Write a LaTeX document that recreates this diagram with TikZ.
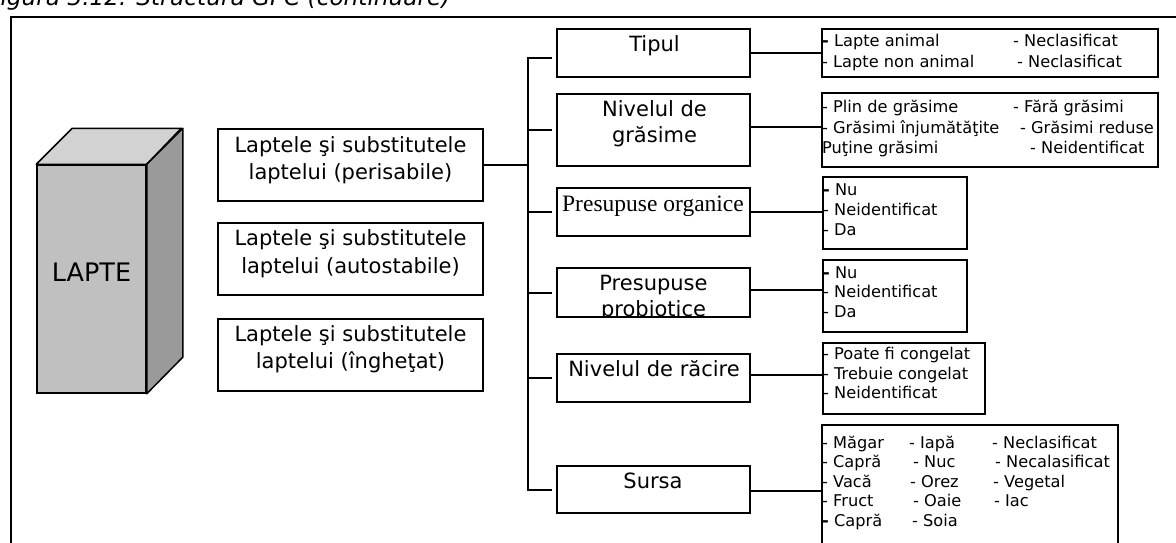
\documentclass[tikz,border=0pt]{standalone}
\usepackage{fontspec}
\setmainfont{DejaVu Sans}
\newfontfamily\timesfont{Liberation Serif}
\usetikzlibrary{calc}

\definecolor{frontgray}{HTML}{C0C0C0}
\definecolor{topgray}{HTML}{D2D2D2}
\definecolor{sidegray}{HTML}{9A9A9A}

\tikzset{
  frame/.style={line width=2pt},
  box/.style={draw, line width=2pt, inner sep=0pt, fill=white},
  conn/.style={line width=2pt},
  bigtext/.style={font=\fontsize{21}{27}\selectfont, inner sep=0pt, anchor=base},
  opttext/.style={font=\fontsize{16.2}{20}\selectfont, inner sep=0pt, anchor=base west},
}

\begin{document}
\begin{tikzpicture}[x=1pt, y=-1pt]
\useasboundingbox (0,0) rectangle (1176,543);
\clip (0,0) rectangle (1176,543);

% caption and page frame
\node[font=\fontsize{23.2}{28}\selectfont\itshape, inner sep=0pt, anchor=base west] (caption) at (-13,6) {Figura 3.12. Structura GPC (continuare)};
\draw[frame] (10.5,600) -- (10.5,17.5) -- (1200,17.5);

% milk carton
\node[draw, line width=1.5pt, fill=frontgray, minimum width=109pt, minimum height=228pt, inner sep=0pt] (milk) at (91.5,279) {};
\filldraw[line width=1.5pt, line join=round, fill=topgray] (milk.north west) -- ++(36,-36) -- ++(109,0) -- (milk.north east) -- cycle;
\filldraw[line width=1.5pt, line join=round, fill=sidegray] (milk.north east) -- ++(36,-36) -- ++(0,229) -- (milk.south east) -- cycle;
\node[font=\fontsize{25.5}{30}\selectfont, inner sep=0pt, anchor=base] (milklabel) at ([yshift=-2.7pt]milk.center) {LAPTE};

% product groups
\node[box, minimum width=265pt, minimum height=72pt] (m1) at (350.5,165) {};
\node[box, minimum width=265pt, minimum height=72pt] (m2) at (350.5,259) {};
\node[box, minimum width=265pt, minimum height=72pt] (m3) at (350.5,355) {};
\node[bigtext] (m1a) at (350.5,152) {Laptele şi substitutele};
\node[bigtext] (m1b) at (350.5,179) {laptelui (perisabile)};
\node[bigtext] (m2a) at (350.5,245.7) {Laptele şi substitutele};
\node[bigtext] (m2b) at (350.5,273) {laptelui (autostabile)};
\node[bigtext] (m3a) at (350.5,341.7) {Laptele şi substitutele};
\node[bigtext] (m3b) at (350.5,368) {laptelui (îngheţat)};

% attribute boxes
\node[box, minimum width=193pt, minimum height=48pt] (c1) at (653.5,53) {};
\node[box, minimum width=193pt, minimum height=72pt] (c2) at (653.5,130) {};
\node[box, minimum width=193pt, minimum height=48pt] (c3) at (653.5,212) {};
\node[box, minimum width=193pt, minimum height=49pt] (c4) at (653.5,292.5) {};
\node[box, minimum width=193pt, minimum height=48pt] (c5) at (653.5,378) {};
\node[box, minimum width=193pt, minimum height=47pt] (c6) at (653.5,489.5) {};

\node[bigtext] (c1t) at (654.5,52) {Tipul};
\node[bigtext] (c2a) at (654.5,117) {Nivelul de};
\node[bigtext] (c2b) at (654.5,142) {grăsime};
\node[font=\fontsize{23.5}{28}\timesfont, inner sep=0pt, anchor=base] (c3t) at (653,211.7) {Presupuse organice};
\begin{scope}
  \clip ([xshift=1pt,yshift=1pt]c4.south west) rectangle ([xshift=-1pt,yshift=-1pt]c4.north east);
  \node[bigtext] (c4a) at (653.5,290.7) {Presupuse};
  \node[bigtext] (c4b) at (653.5,316) {probiotice};
\end{scope}
\node[bigtext] (c5t) at (654,376) {Nivelul de răcire};
\node[bigtext] (c6t) at (653,488) {Sursa};

% value boxes
\node[box, minimum width=336pt, minimum height=48pt] (o1) at (990,53) {};
\node[box, minimum width=336pt, minimum height=74pt] (o2) at (990,130) {};
\node[box, minimum width=144pt, minimum height=72pt] (o3) at (895,213) {};
\node[box, minimum width=144pt, minimum height=72pt] (o4) at (895,296) {};
\node[box, minimum width=162pt, minimum height=71pt] (o5) at (904,378.5) {};
\node[box, minimum width=296pt, minimum height=175pt] (o6) at (970,512.5) {};

\node[opttext] (o1a) at (822,47) {\textbf{-} Lapte animal};
\node[opttext] (o1b) at (1013,47) {- Neclasificat};
\node[opttext] (o1c) at (822,68) {- Lapte non animal};
\node[opttext] (o1d) at (1017,68) {- Neclasificat};

\node[opttext] (o2a) at (822,113) {- Plin de grăsime};
\node[opttext] (o2b) at (1013,113) {- Fără grăsimi};
\node[opttext] (o2c) at (822,133) {- Grăsimi înjumătăţite};
\node[opttext] (o2d) at (1020,133) {- Grăsimi reduse};
\node[opttext] (o2e) at (822,153) {Puţine grăsimi};
\node[opttext] (o2f) at (1030,153) {- Neidentificat};

\node[opttext] (o3a) at (823,195) {\textbf{-} Nu};
\node[opttext] (o3b) at (823,215) {- Neidentificat};
\node[opttext] (o3c) at (823,235) {- Da};

\node[opttext] (o4a) at (823,278) {\textbf{-} Nu};
\node[opttext] (o4b) at (823,297.5) {- Neidentificat};
\node[opttext] (o4c) at (823,317) {- Da};

\node[opttext] (o5a) at (823,359) {- Poate fi congelat};
\node[opttext] (o5b) at (823,379) {- Trebuie congelat};
\node[opttext] (o5c) at (823,398.5) {- Neidentificat};

\node[opttext] (o6a) at (822,448) {- Măgar};
\node[opttext] (o6b) at (822,467.5) {- Capră};
\node[opttext] (o6c) at (822,487) {- Vacă};
\node[opttext] (o6d) at (822,506.5) {- Fruct};
\node[opttext] (o6e) at (822,526) {\textbf{-} Capră};
\node[opttext] (o6f) at (909,448) {- Iapă};
\node[opttext] (o6g) at (913,467.5) {- Nuc};
\node[opttext] (o6h) at (910,487) {- Orez};
\node[opttext] (o6i) at (913,506.5) {- Oaie};
\node[opttext] (o6j) at (912,526) {- Soia};
\node[opttext] (o6k) at (992,448) {- Neclasificat};
\node[opttext] (o6l) at (995,467.5) {- Necalasificat};
\node[opttext] (o6m) at (993,487) {- Vegetal};
\node[opttext] (o6n) at (994,506.5) {- Iac};

% tree connectors
\coordinate (tk) at (528,0);
\draw[conn] (m1.east) -- (tk |- m1.east);
\draw[conn] ([xshift=-4pt,yshift=-5pt]c1.west) -| (tk |- c6.west) -- ([xshift=-4pt]c6.west);
\foreach \c in {c2,c3,c4,c5} {
  \draw[conn] (tk |- \c.west) -- ([xshift=-4pt]\c.west);
}
\draw[conn] (c1.east) -- (c1.east -| o1.west);
\draw[conn] ([yshift=3pt]c2.east) -- ([yshift=3pt]c2.east -| o2.west);
\draw[conn] (c3.east) -- (c3.east -| o3.west);
\draw[conn] ([yshift=3pt]c4.east) -- ([yshift=3pt]c4.east -| o4.west);
\draw[conn] ([yshift=3pt]c5.east) -- ([yshift=3pt]c5.east -| o5.west);
\draw[conn] ([yshift=-1pt]c6.east) -- ([yshift=-1pt]c6.east -| o6.west);
\end{tikzpicture}
\end{document}
